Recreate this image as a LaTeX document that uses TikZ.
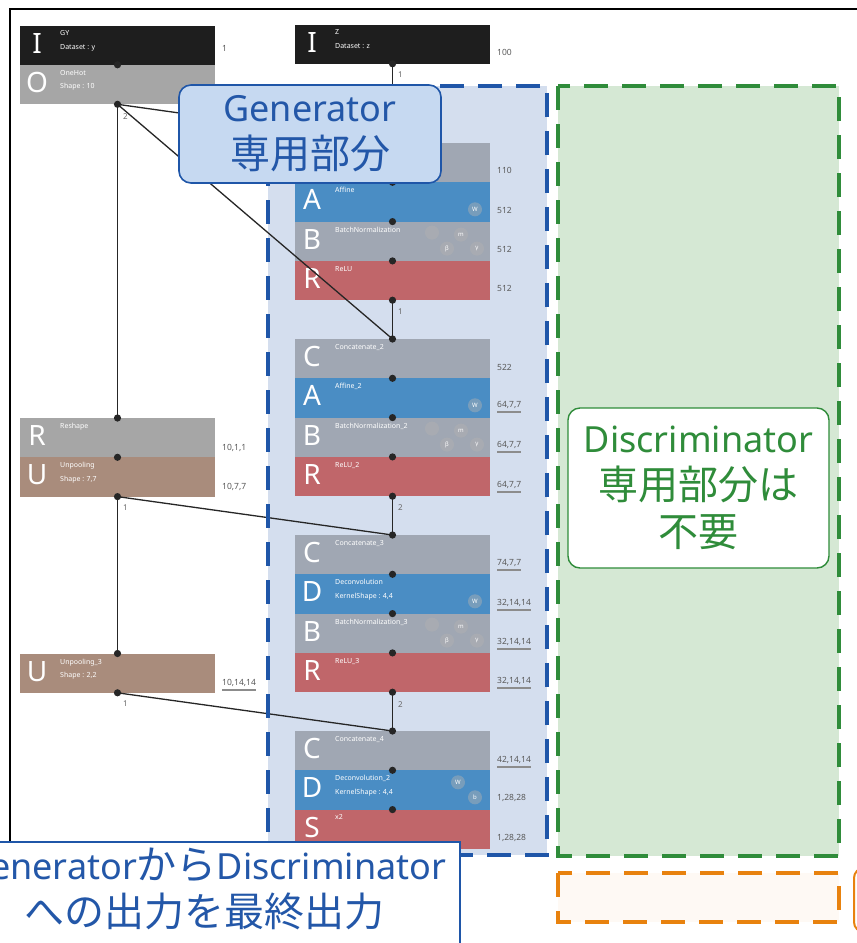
\documentclass[tikz,border=0pt]{standalone}
\usepackage{fontspec}
\setmainfont{Noto Sans}
\newfontfamily\jpfont{Noto Sans CJK JP}
\usetikzlibrary{calc}

\definecolor{inblack}{HTML}{1E1E1E}
\definecolor{lgray}{HTML}{A6A6A6}
\definecolor{mgray}{HTML}{A0A7B3}
\definecolor{nblue}{HTML}{4A8DC4}
\definecolor{nred}{HTML}{C0666A}
\definecolor{nbrown}{HTML}{A98C7C}
\definecolor{genfill}{HTML}{D4DEEE}
\definecolor{genline}{HTML}{1F56A8}
\definecolor{genlab}{HTML}{C6D9F1}
\definecolor{labtext}{HTML}{2357A8}
\definecolor{disfill}{HTML}{D5E8D4}
\definecolor{disline}{HTML}{2F8C3A}
\definecolor{outfill}{HTML}{FEF9F4}
\definecolor{outline}{HTML}{E8820E}

% one layer block of the network: name, x, y, fill, letter, first line, second line
\newcommand\nnblock[7]{%
  \node[blk, fill=#4] (#1) at (#2,#3) {};
  \node[bigl] (#1-L) at ($(#1.west)+(17,-2)$) {#5};
  \node[tinyt] (#1-T) at ($(#1.north west)+(40,5)$) {#6\\#7};
}
% output size printed beside a block
\newcommand\sizelab[4]{\node[dim] (#1) at (#2,#3) {#4};}
\newcommand\sizelabu[4]{\node[dim] (#1) at (#2,#3) {#4};
  \draw[uline] ($(#1.south west)+(0,3)$) -- ($(#1.south east)+(0,3)$);}
% parameter badges of a batch normalization block
\newcommand\bnpars[1]{%
  \node[parc] (#1-p1) at ($(#1.north east)+(-58,11)$) {};
  \node[parc] (#1-p2) at ($(#1.north east)+(-29,13)$) {m};
  \node[parc] (#1-p3) at ($(#1.north east)+(-43,27)$) {β};
  \node[parc] (#1-p4) at ($(#1.north east)+(-13,27)$) {γ};
}

\begin{document}
\begin{tikzpicture}[x=1pt,y=-1pt,
  blk/.style={anchor=north west, minimum width=195pt, minimum height=39.3pt, inner sep=0, outer sep=0},
  bigl/.style={text=white, font=\fontsize{28}{28}\selectfont, inner sep=0},
  tinyt/.style={anchor=north west, text=white, font=\fontsize{7}{13.5}\selectfont, align=left, inner sep=0},
  dim/.style={anchor=west, font=\fontsize{8.5}{9}\selectfont, text=black!65, inner sep=0},
  elab/.style={font=\fontsize{8}{9}\selectfont, text=black!60, inner sep=0},
  uline/.style={draw=black!45, line width=1.6pt},
  edge/.style={draw=black!85, line width=1.3pt},
  parc/.style={circle, fill=black!30, fill opacity=0.45, text opacity=1, minimum size=14pt, inner sep=0, text=white, font=\fontsize{6}{6}\selectfont},
  dashbox/.style={line width=4.5pt, dash pattern=on 24pt off 14pt},
  labfont/.style={font=\fontsize{36}{47}\selectfont, align=center}
]
\useasboundingbox (0,0) rectangle (857,943);
\clip (0,0) rectangle (857,943);
\fill[white] (0,0) rectangle (857,943);

% outer frame
\draw[line width=1.6pt] (10,960) -- (10,9) -- (870,9);

% background regions
\fill[genfill] (268,86) rectangle (547,855);
\fill[disfill] (558,86) rectangle (839,856);
\fill[outfill] (558,873) rectangle (839,922);

% left column
\nnblock{gy}{20}{25.5}{inblack}{I}{GY}{Dataset : y}
\nnblock{oh}{20}{65}{lgray}{O}{OneHot}{Shape : 10}
\nnblock{rs}{20}{418}{lgray}{R}{Reshape}{}
\nnblock{up}{20}{457.3}{nbrown}{U}{Unpooling}{Shape : 7,7}
\nnblock{upt}{20}{653.5}{nbrown}{U}{Unpooling\_3}{Shape : 2,2}

% generator column
\nnblock{z}{295}{24.5}{inblack}{I}{Z}{Dataset : z}
\node[blk, fill=mgray] (c1) at (295,143) {};
\nnblock{a1}{295}{182.3}{nblue}{A}{Affine}{}
\nnblock{b1}{295}{221.6}{mgray}{B}{BatchNormalization}{}
\nnblock{r1}{295}{260.9}{nred}{R}{ReLU}{}
\nnblock{c2}{295}{339}{mgray}{C}{Concatenate\_2}{}
\nnblock{a2}{295}{378.3}{nblue}{A}{Affine\_2}{}
\nnblock{b2}{295}{417.6}{mgray}{B}{BatchNormalization\_2}{}
\nnblock{r2}{295}{456.9}{nred}{R}{ReLU\_2}{}
\nnblock{c3}{295}{535}{mgray}{C}{Concatenate\_3}{}
\nnblock{d1}{295}{574.3}{nblue}{D}{Deconvolution}{KernelShape : 4,4}
\nnblock{b3}{295}{613.6}{mgray}{B}{BatchNormalization\_3}{}
\nnblock{r3}{295}{652.9}{nred}{R}{ReLU\_3}{}
\nnblock{c4}{295}{731}{mgray}{C}{Concatenate\_4}{}
\nnblock{d2}{295}{770.3}{nblue}{D}{Deconvolution\_2}{KernelShape : 4,4}
\nnblock{s1}{295}{809.6}{nred}{S}{x2}{}

% parameter badges
\node[parc] (a1-w) at ($(a1.north east)+(-15,27)$) {W};
\node[parc] (a2-w) at ($(a2.north east)+(-15,27)$) {W};
\node[parc] (d1-w) at ($(d1.north east)+(-15,27)$) {W};
\node[parc] (d2-w) at ($(d2.north east)+(-32,12)$) {W};
\node[parc] (d2-b) at ($(d2.north east)+(-15,27)$) {b};
\bnpars{b1}
\bnpars{b2}
\bnpars{b3}

% output sizes
\sizelab{s-gy}{222}{48}{1}
\sizelab{s-rs}{222}{448}{10,1,1}
\sizelab{s-up}{222}{487}{10,7,7}
\sizelabu{s-upt}{222}{683}{10,14,14}
\sizelab{s-z}{497}{52}{100}
\sizelab{s-c1}{497}{170}{110}
\sizelab{s-a1}{497}{210}{512}
\sizelab{s-b1}{497}{249}{512}
\sizelab{s-r1}{497}{288}{512}
\sizelab{s-c2}{497}{367}{522}
\sizelabu{s-a2}{497}{405}{64,7,7}
\sizelabu{s-b2}{497}{445}{64,7,7}
\sizelabu{s-r2}{497}{485}{64,7,7}
\sizelabu{s-c3}{497}{563}{74,7,7}
\sizelabu{s-d1}{497}{603}{32,14,14}
\sizelabu{s-b3}{497}{642}{32,14,14}
\sizelabu{s-r3}{497}{681}{32,14,14}
\sizelabu{s-c4}{497}{760}{42,14,14}
\sizelab{s-d2}{497}{798}{1,28,28}
\sizelab{s-s1}{497}{838}{1,28,28}

% connections
\draw[edge] (oh.south) -- (rs.north);
\draw[edge] (up.south) -- (upt.north);
\draw[edge] (z.south) -- (c1.north);
\draw[edge] (r1.south) -- (c2.north);
\draw[edge] (r2.south) -- (c3.north);
\draw[edge] (r3.south) -- (c4.north);
\draw[edge] (oh.south) -- (c1.north);
\draw[edge] (oh.south) -- (c2.north);
\draw[edge] (up.south) -- (c3.north);
\draw[edge] (upt.south) -- (c4.north);

% connection points
\foreach \p in {gy.south, oh.south, rs.north, rs.south, up.south, upt.north, upt.south,
  z.south, c1.north, c1.south, a1.south, b1.south, r1.south,
  c2.north, c2.south, a2.south, b2.south, r2.south,
  c3.north, c3.south, d1.south, b3.south, r3.south,
  c4.north, c4.south, d2.south}
  \fill[black!85] (\p) circle (3.6pt);

% edge multiplicities
\node[elab] (e1) at ($(oh.south)+(8,12)$) {2};
\node[elab] (e2) at ($(z.south)+(8,11)$) {1};
\node[elab] (e3) at ($(r1.south)+(8,11)$) {1};
\node[elab] (e4) at ($(r2.south)+(8,11)$) {2};
\node[elab] (e5) at ($(r3.south)+(8,12)$) {2};
\node[elab] (e6) at ($(up.south)+(8,11)$) {1};
\node[elab] (e7) at ($(upt.south)+(8,11)$) {1};

% dashed outlines of the regions
\draw[dashbox, genline] (268,86) rectangle (547,855);
\draw[dashbox, disline] (558,86) rectangle (839,856);
\draw[dashbox, outline] (558,873) rectangle (839,922);
\draw[outline, line width=2pt, fill=white, rounded corners=10pt] (854,868) rectangle (960,932);

% callouts
\node[labfont, text=labtext, draw=genline, line width=1.6pt, fill=genlab, rounded corners=12pt,
  minimum width=262pt, minimum height=98pt, inner sep=0] (genbox) at (310,134)
  {Generator\\{\jpfont\fontsize{40}{47}\selectfont 専用部分}};
\node[labfont, text=disline, draw=disline, line width=1.4pt, fill=white, rounded corners=12pt,
  minimum width=261pt, minimum height=160pt, inner sep=0] (disbox) at (698.5,488)
  {Discriminator\\{\jpfont\fontsize{40}{47}\selectfont 専用部分は}\\{\jpfont\fontsize{40}{47}\selectfont 不要}};
\node[draw=genline, line width=1.4pt, fill=white, minimum width=500pt, minimum height=140pt,
  inner sep=0] (outbox) at (210,912) {};
\node[labfont, text=labtext, inner sep=0] (outtext) at (205,889)
  {Generator{\jpfont\fontsize{40}{47}\selectfont から}Discriminator\\{\jpfont\fontsize{40}{47}\selectfont への出力を最終出力}};
\end{tikzpicture}
\end{document}
